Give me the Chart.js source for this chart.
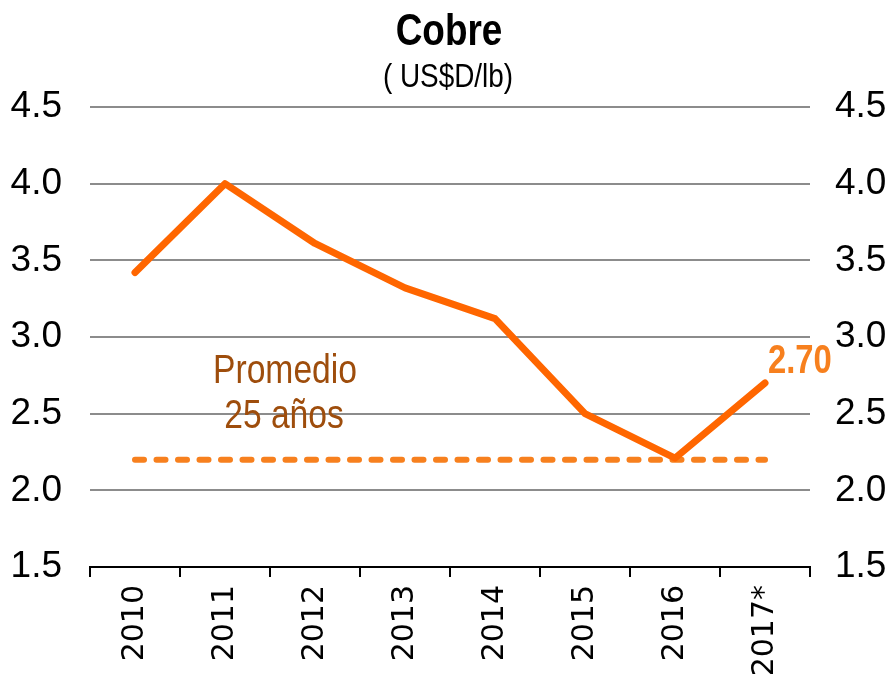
<!DOCTYPE html>
<html>
<head>
<meta charset="utf-8">
<script src="https://cdn.jsdelivr.net/npm/chart.js@4"></script>
<style>
  body { margin: 0; background: #fff; }
  #wrap { width: 894px; height: 681px; position: relative; }
</style>
</head>
<body>
<div id="wrap"><canvas id="myChart"></canvas></div>
<script>
const years = ["2010", "2011", "2012", "2013", "2014", "2015", "2016", "2017*"];
const cobre = [3.42, 4.00, 3.61, 3.32, 3.12, 2.50, 2.21, 2.70];
const promedio = [2.2, 2.2, 2.2, 2.2, 2.2, 2.2, 2.2, 2.2];
const yTicks = [1.5, 2.0, 2.5, 3.0, 3.5, 4.0, 4.5];

const sans = '"Liberation Sans", Arial, sans-serif';

// texto angosto: no hay Arial Narrow instalada, se comprime a mano
function textoAngosto(ctx, txt, x, y, font, align) {
    ctx.save();
    ctx.font = font;
    ctx.textAlign = align;
    ctx.translate(x, y);
    ctx.scale(0.82, 1);
    ctx.fillText(txt, 0, 0);
    ctx.restore();
}

const textos = {
    id: "textos",
    afterDraw(chart) {
        const ctx = chart.ctx;
        ctx.save();
        ctx.textBaseline = "alphabetic";
        ctx.fillStyle = "#000";
        textoAngosto(ctx, "Cobre", 449, 45, "bold 45px " + sans, "center");
        textoAngosto(ctx, "( US$D/lb)", 448, 87, "34px " + sans, "center");

        ctx.fillStyle = "#9e4d0c";
        textoAngosto(ctx, "Promedio", 285, 383, "41px " + sans, "center");
        textoAngosto(ctx, "25 años", 284, 428, "41px " + sans, "center");

        const meta = chart.getDatasetMeta(0);
        const last = meta.data[meta.data.length - 1];
        ctx.fillStyle = "#f7801e";
        textoAngosto(ctx, cobre[cobre.length - 1].toFixed(2), last.x + 3, last.y - 10, "bold 40px " + sans, "left");
        ctx.restore();
    }
};

const yScale = (pos, width, pad, grid) => ({
    type: "linear",
    position: pos,
    min: 1.5,
    max: 4.5,
    afterBuildTicks: s => { s.ticks = yTicks.map(v => ({ value: v })); },
    afterFit: s => { s.width = width; },
    border: { display: false },
    grid: grid,
    ticks: {
        padding: pad,
        color: "#000",
        font: { family: sans, size: 37 },
        callback: v => v.toFixed(1)
    }
});

new Chart(document.getElementById("myChart"), {
    type: "line",
    data: {
        labels: years,
        datasets: [
            {
                data: cobre,
                borderColor: "#ff6600",
                borderWidth: 7,
                borderCapStyle: "round",
                borderJoinStyle: "round",
                pointRadius: 0,
                tension: 0,
                yAxisID: "y"
            },
            {
                data: promedio,
                borderColor: "#f7801e",
                borderWidth: 6,
                borderDash: [9, 12.5],
                borderCapStyle: "round",
                pointRadius: 0,
                yAxisID: "y"
            }
        ]
    },
    options: {
        responsive: true,
        maintainAspectRatio: false,
        animation: false,
        layout: { padding: { top: 107, left: 0, right: 0, bottom: 0 } },
        plugins: {
            legend: { display: false },
            tooltip: { enabled: false },
            title: { display: false }
        },
        scales: {
            x: {
                offset: true,
                afterFit: s => { s.height = 114; },
                border: { color: "#000", width: 2 },
                grid: {
                    offset: true,
                    drawOnChartArea: false,
                    drawTicks: true,
                    tickLength: 10,
                    color: "#000",
                    lineWidth: 2
                },
                ticks: {
                    minRotation: 90,
                    maxRotation: 90,
                    padding: 8,
                    color: "#000",
                    font: { family: '"DejaVu Sans", sans-serif', size: 30 }
                }
            },
            y: yScale("left", 90, 28, {
                drawTicks: false,
                lineWidth: 2,
                color: c => (c.tick && c.tick.value === 1.5) ? "rgba(0,0,0,0)" : "#8c8c8c"
            }),
            y2: yScale("right", 84, 25, { drawTicks: false, drawOnChartArea: false })
        }
    },
    plugins: [textos]
});
</script>
</body>
</html>
